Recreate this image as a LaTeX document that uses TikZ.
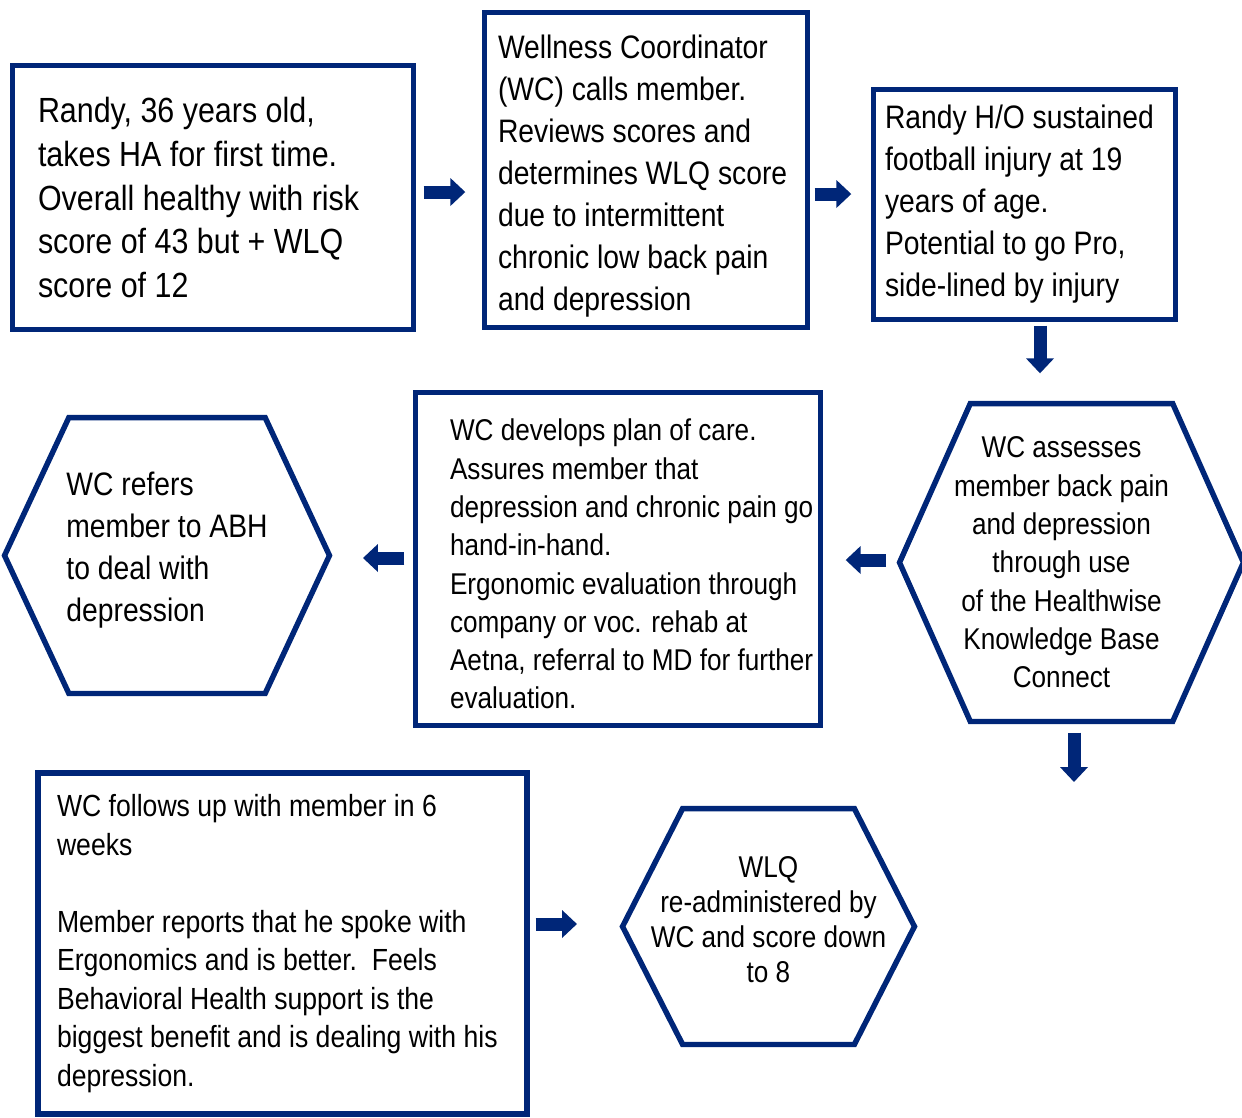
\documentclass[tikz,border=0pt]{standalone}
\usepackage{fontspec}
\setmainfont{Liberation Sans}[FakeStretch=0.87]
\usetikzlibrary{arrows.meta,shapes.symbols}

\definecolor{navy}{RGB}{0,38,120}

\begin{document}
\begin{tikzpicture}[x=0.02cm,y=-0.02cm,
  box/.style={draw=navy, line width=3.1pt, rectangle, align=flush left},
  hexbox/.style={draw=navy, line width=3.1pt, signal, signal to=west and east, inner sep=0pt},
  bigarrow/.style={navy, line width=7.4pt, -{Triangle[width=15.4pt,length=8.5pt]}},
  fhuge/.style={font=\fontsize{19.9pt}{25pt}\selectfont},
  fbig/.style={font=\fontsize{18.5pt}{23.9pt}\selectfont},
  fmid/.style={font=\fontsize{17.1pt}{21.8pt}\selectfont},
  fnote/.style={font=\fontsize{17.4pt}{21.9pt}\selectfont},
  fsmall/.style={font=\fontsize{17.1pt}{19.9pt}\selectfont}]
%\draw [help lines] (0,0) grid (1242,1117);
\useasboundingbox (0,0) rectangle (1242,1117);

% top row

\node [box, fhuge, minimum width=8.02cm, minimum height=5.28cm, inner xsep=0.51cm, text width=7cm] (ha) at (213,197.5)
  {Randy, 36 years old,\\ takes HA for first time.\\ Overall healthy with risk\\ score of 43 but + WLQ\\ score of 12};

\node [box, fbig, minimum width=6.46cm, minimum height=6.3cm, inner xsep=0.27cm, text width=5.92cm, text height=20.3pt] (call) at (646,170)
  {Wellness Coordinator\\ (WC) calls member.\\ Reviews scores and\\ \mbox{determines WLQ score}\\ due to intermittent\\ chronic low back pain\\ and depression};

\node [box, fbig, minimum width=6.04cm, minimum height=4.6cm, inner xsep=0.23cm, text width=5.58cm] (injury) at (1024.5,204.5)
  {\mbox{Randy H/O sustained}\\ football injury at 19\\ years of age.\\ Potential to go Pro,\\ side-lined by injury};

% middle row

\node [hexbox, minimum width=6.88cm, minimum height=6.36cm, signal pointer angle=132] (assess) at (1071.5,562.5) {};
\node [fmid, align=center] (assess text) at ([xshift=-0.2cm]assess.center)
  {WC assesses\\ member back pain\\ and depression\\ through use\\ of the Healthwise\\ Knowledge Base\\ Connect};

\node [box, fmid, minimum width=8.1cm, minimum height=6.66cm, inner xsep=0.69cm, text width=6.72cm, text height=18.2pt] (care) at (618,559)
  {WC develops plan of care.\\ Assures member that\\ \mbox{depression and chronic pain go}\\ hand-in-hand.\\ \mbox{Ergonomic evaluation through}\\ company or voc. rehab at\\ \mbox{Aetna, referral to MD for further}\\ evaluation.};

\node [hexbox, minimum width=6.5cm, minimum height=5.52cm, signal pointer angle=130] (refer) at (167,555.5) {};
\node [fbig, align=left] (refer text) at ([yshift=0.1cm]refer.center)
  {WC refers\\ member to ABH\\ to deal with\\ depression};

% bottom row

\node [box, fnote, minimum width=9.78cm, minimum height=6.82cm, inner xsep=0.38cm, text width=9.02cm] (follow) at (282.5,943.5)
  {WC follows up with member in 6\\ weeks\\ \mbox{}\\ Member reports that he spoke with\\ Ergonomics and is better.~~Feels\\ Behavioral Health support is the\\ \mbox{biggest benefit and is dealing with his}\\ depression.};

\node [hexbox, minimum width=5.84cm, minimum height=4.72cm, signal pointer angle=126] (wlq) at (768.5,926.5) {};
\node [fsmall, align=center] (wlq text) at ([yshift=0.14cm]wlq.center)
  {WLQ\\ re-administered by\\ WC and score down\\ to 8};

% arrows between the boxes
\draw [bigarrow, shorten <=0.15cm, shorten >=0.33cm] ([yshift=0.11cm]ha.east) -- ([yshift=0.11cm]ha.east -| call.west);
\draw [bigarrow, shorten <=0.09cm, shorten >=0.39cm] ([yshift=0.21cm]injury.west -| call.east) -- ([yshift=0.21cm]injury.west);
\draw [bigarrow, shorten <=0.07cm, shorten >=0.55cm] ([xshift=0.31cm]injury.south) -- ([xshift=0.31cm]injury.south |- assess.north);
\draw [bigarrow, shorten <=0.21cm, shorten >=0.45cm] ([yshift=0.05cm]assess.west) -- ([yshift=0.05cm]assess.west -| care.east);
\draw [bigarrow, shorten <=0.17cm, shorten >=0.61cm] ([yshift=0.02cm]care.west) -- ([yshift=0.02cm]care.west -| refer.east);

\coordinate (next) at (1074,782);
\draw [bigarrow, shorten <=0.17cm] (assess.south -| next) -- (next);

\draw [bigarrow, shorten <=0.12cm, shorten >=0.85cm] ([yshift=0.05cm]wlq.west -| follow.east) -- ([yshift=0.05cm]wlq.west);

\end{tikzpicture}
\end{document}
